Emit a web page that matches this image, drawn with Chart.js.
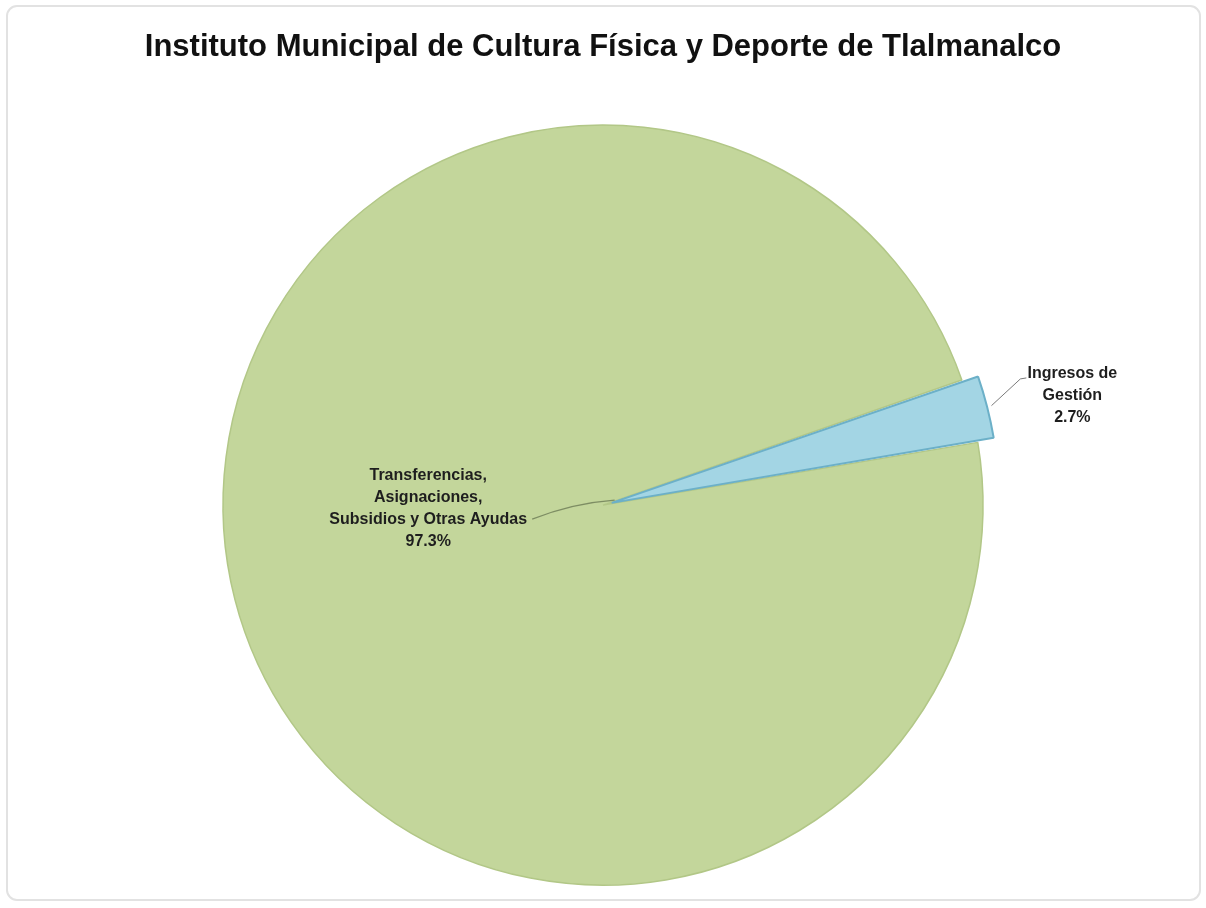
<!DOCTYPE html>
<html>
<head>
<meta charset="utf-8">
<script src="https://cdn.jsdelivr.net/npm/chart.js@4"></script>
<style>
    html, body { margin: 0; padding: 0; background: #fff; }
    #wrap { width: 1206px; height: 908px; position: relative; }
</style>
</head>
<body>
<div id="wrap"><canvas id="myChart"></canvas></div>
<script>
var categories = ["Transferencias, Asignaciones, Subsidios y Otras Ayudas", "Ingresos de Gestión"];
var labelLines = [
    ["Transferencias,", "Asignaciones,", "Subsidios y Otras Ayudas"],
    ["Ingresos de", "Gestión"]
];
var values = [97.3, 2.7];
var explode = [0, 36];

// marco gris claro alrededor del grafico
var frame = {
    id: "frame",
    beforeDraw: function (chart) {
        var ctx = chart.ctx;
        ctx.save();
        ctx.strokeStyle = "#e2e2e2";
        ctx.lineWidth = 2;
        ctx.beginPath();
        ctx.roundRect(7, 6, 1193, 894, 10);
        ctx.stroke();
        ctx.restore();
    }
};

var pieLabels = {
    id: "pieLabels",
    afterDatasetsDraw: function (chart) {
        var ctx = chart.ctx;
        var arcs = chart.getDatasetMeta(0).data;
        var total = values.reduce(function (a, b) { return a + b; }, 0);
        var big = arcs[0], small = arcs[1];
        var cx = big.x, cy = big.y, r = big.outerRadius;
        var mid = (small.startAngle + small.endAngle) / 2;

        ctx.save();
        ctx.font = "bold 16px 'Liberation Sans', Arial, sans-serif";
        ctx.fillStyle = "#1e1e1e";
        ctx.textAlign = "center";
        ctx.textBaseline = "middle";

        // etiqueta grande, a la izquierda del centro
        var lx = cx - 0.46 * r, ly = cy - 30;
        var lines = labelLines[0].concat([(values[0] / total * 100).toFixed(1) + "%"]);
        lines.forEach(function (t, i) {
            ctx.fillText(t, lx, ly + i * 22);
        });
        ctx.strokeStyle = "rgba(95,110,75,0.7)";
        ctx.lineWidth = 1.2;
        ctx.beginPath();
        ctx.moveTo(lx + 104, ly + 2 * 22);
        ctx.quadraticCurveTo(cx - 30, cy - 2, cx + 12 * Math.cos(mid), cy + 12 * Math.sin(mid) - 2);
        ctx.stroke();

        // etiqueta pequena, fuera del pie (el arco sale unos offset/2 px)
        var d = r + explode[1] / 2;
        var sx = cx + (d + 3) * Math.cos(mid), sy = cy + (d + 3) * Math.sin(mid);
        var tx = cx + 1.275 * r * Math.cos(mid), ty = cy + 1.275 * r * Math.sin(mid);
        ctx.strokeStyle = "#7a7a7a";
        ctx.lineWidth = 1;
        ctx.beginPath();
        ctx.moveTo(sx, sy);
        ctx.lineTo(tx - 52, ty - 6);
        ctx.lineTo(tx - 46, ty - 7);
        ctx.stroke();
        var lines2 = labelLines[1].concat([(values[1] / total * 100).toFixed(1) + "%"]);
        lines2.forEach(function (t, i) {
            ctx.fillText(t, tx, ty - 11 + i * 22);
        });
        ctx.restore();
    }
};

var draw = function () {
    var canvas = document.getElementById("myChart");
    var ctx = canvas.getContext("2d");
    var myChart = new Chart(ctx, {
        type: "pie",
        data: {
            labels: categories,
            datasets: [{
                data: values,
                backgroundColor: ["#c3d69b", "#a3d5e4"],
                borderColor: ["#b2c787", "#6cb0c8"],
                borderWidth: [1.5, 2],
                offset: explode,
                clip: false
            }]
        },
        options: {
            responsive: true,
            maintainAspectRatio: false,
            animation: false,
            rotation: 80.5,
            radius: 380,
            layout: { padding: { top: 0, bottom: 28, left: 0, right: 0 } },
            plugins: {
                legend: { display: false },
                tooltip: { enabled: false },
                title: {
                    display: true,
                    text: "Instituto Municipal de Cultura Física y Deporte de Tlalmanalco",
                    color: "#111",
                    font: { size: 31, weight: "bold", family: "'Liberation Sans', Arial, sans-serif" },
                    padding: { top: 29, bottom: 64 }
                }
            }
        },
        plugins: [frame, pieLabels]
    });
};

window.onload = function () {
    draw();
};
</script>
</body>
</html>
